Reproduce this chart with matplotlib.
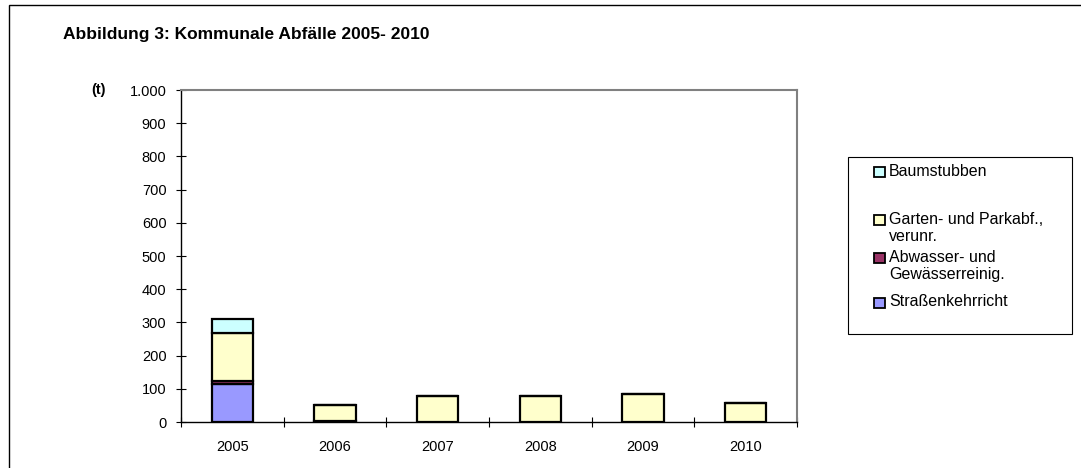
import numpy as np
import matplotlib
matplotlib.use("Agg")
import matplotlib.pyplot as plt
from matplotlib.patches import Rectangle

plt.rcParams["font.family"] = ["Liberation Sans", "DejaVu Sans"]

# data (t)
years = ["2005", "2006", "2007", "2008", "2009", "2010"]
strassen = [113, 0, 0, 0, 0, 0]
abwasser = [11, 3, 0, 0, 0, 0]
garten = [145, 48, 77, 77, 83, 58]
baum = [40, 0, 0, 0, 0, 0]

series = [("Straßenkehrricht", strassen, "#9999ff"),
          ("Abwasser- und\nGewässerreinig.", abwasser, "#993366"),
          ("Garten- und Parkabf.,\nverunr.", garten, "#ffffcc"),
          ("Baumstubben", baum, "#ccffff")]

W, H = 1081, 468
FS = 10.5

fig = plt.figure(figsize=(W / 100, H / 100), dpi=100)
ax = fig.add_axes([181 / W, 1 - 422 / H, 616 / W, 332 / H])

x = np.arange(len(years))
bottom = np.zeros(len(years))
for name, vals, col in series:
    vals = np.array(vals, float)
    ax.bar(x, vals, width=0.4, bottom=bottom, color=col, edgecolor="black",
           linewidth=1.6, zorder=3)
    bottom += vals

ax.set_xlim(-0.5, len(years) - 0.5)
ax.set_ylim(0, 1000)
ax.set_yticks(np.arange(0, 1001, 100))
ax.set_yticklabels([f"{v:,}".replace(",", ".") for v in range(0, 1001, 100)], fontsize=FS)
ax.set_xticks(x)
ax.set_xticklabels(years, fontsize=FS)
ax.set_xticks(np.arange(-0.5, len(years)), minor=True)
ax.tick_params(axis="x", which="major", length=0, pad=13)
ax.tick_params(axis="x", which="minor", direction="inout", length=7, width=0.8)
ax.tick_params(axis="y", direction="inout", length=7, width=0.8, pad=7)
for s in ("top", "right"):
    ax.spines[s].set_color("#808080")
    ax.spines[s].set_linewidth(1.5)
for s in ("left", "bottom"):
    ax.spines[s].set_color("black")
    ax.spines[s].set_linewidth(1.0)

fig.text(63 / W, 1 - 34 / H, "Abbildung 3: Kommunale Abfälle 2005- 2010",
         fontsize=12.5, fontweight="bold", va="center", ha="left")
fig.text(98 / W, 1 - 90 / H, "(t)", fontsize=FS, fontweight="bold",
         va="center", ha="center")

# legend box, drawn like the Excel one
lx0, ly0, lx1, ly1 = 848, 157, 1072, 334
fig.patches.append(Rectangle((lx0 / W, 1 - ly1 / H), (lx1 - lx0) / W,
                             (ly1 - ly0) / H, transform=fig.transFigure,
                             facecolor="white", edgecolor="black", linewidth=0.8))
leg_y = [172, 220, 258, 303]
for (name, vals, col), yy in zip(series[::-1], leg_y):
    fig.patches.append(Rectangle((874 / W, 1 - (yy + 5) / H), 11 / W, 10 / H,
                                 transform=fig.transFigure, facecolor=col,
                                 edgecolor="black", linewidth=1.3))
    fig.text(889 / W, 1 - (yy - 8.5) / H, name, fontsize=11.5, va="top",
             ha="left", linespacing=1.18)

# outer chart frame
fig.patches.append(Rectangle((9 / W, -0.05), 1.1, 1.05 - 5 / H,
                             transform=fig.transFigure, facecolor="none",
                             edgecolor="black", linewidth=1.0))

fig.savefig("out.png", dpi=100)
